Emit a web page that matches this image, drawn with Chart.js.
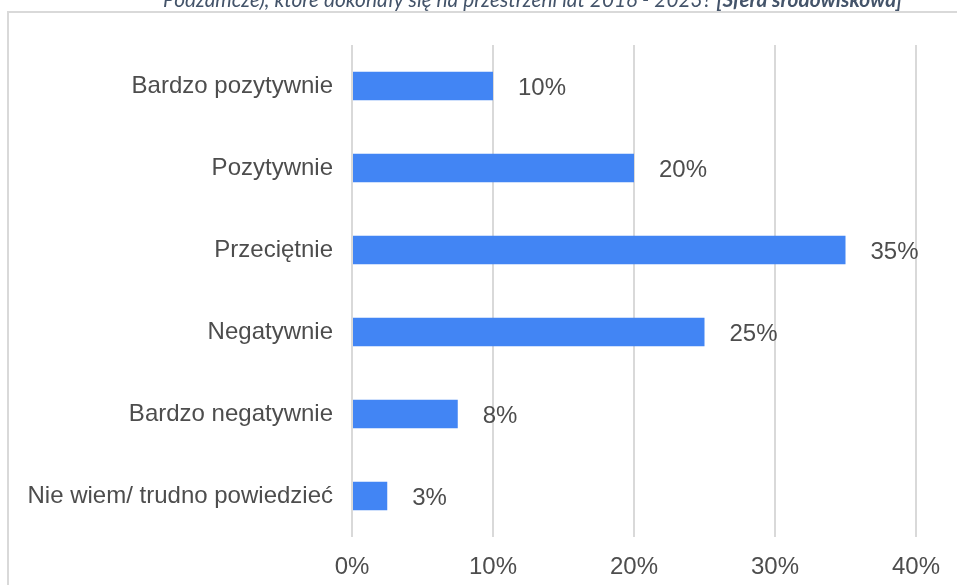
<!DOCTYPE html>
<html>
<head>
<meta charset="utf-8">
<script src="https://cdn.jsdelivr.net/npm/chart.js@4.4.0/dist/chart.umd.min.js"></script>
<style>
  html, body { margin: 0; padding: 0; background: #fff; }
  #wrap { width: 957px; height: 585px; position: relative; }
</style>
</head>
<body>
<div id="wrap"><canvas id="myChart"></canvas></div>
<script>
const categories = ["Bardzo pozytywnie", "Pozytywnie", "Przeciętnie", "Negatywnie", "Bardzo negatywnie", "Nie wiem/ trudno powiedzieć"];
const shares = [10, 20, 35, 25, 7.5, 2.5];
const tickValues = [0, 10, 20, 30, 40];
const titleText = "Podzamcze), które dokonały się na przestrzeni lat 2016 - 2023? ";
const titleBold = "[Sfera środowiskowa]";

const textColor = "#4d4d4d";
const labelFont = "Liberation Sans, Arial, sans-serif";
const labelSize = 24;

// frame lines + the cut-off heading above the chart
const framePlugin = {
    id: "frame",
    beforeDraw(chart) {
        const ctx = chart.ctx;
        ctx.save();
        ctx.strokeStyle = "#d9d9d9";
        ctx.lineWidth = 2;
        ctx.beginPath();
        ctx.moveTo(8, 585);
        ctx.lineTo(8, 12);
        ctx.lineTo(957, 12);
        ctx.stroke();

        ctx.fillStyle = "#44546a";
        ctx.textBaseline = "alphabetic";
        let size = 20;
        ctx.font = "italic " + size + "px Lato";
        let w1 = ctx.measureText(titleText).width;
        ctx.font = "italic bold " + size + "px Lato";
        let w2 = ctx.measureText(titleBold).width;
        size = size * 739 / (w1 + w2);
        ctx.font = "italic " + size + "px Lato";
        w1 = ctx.measureText(titleText).width;
        ctx.fillText(titleText, 163, 7);
        ctx.font = "italic bold " + size + "px Lato";
        ctx.fillText(titleBold, 163 + w1, 7);
        ctx.restore();
    }
};

// value labels to the right of each bar
const valueLabels = {
    id: "valueLabels",
    afterDatasetsDraw(chart) {
        const ctx = chart.ctx;
        const meta = chart.getDatasetMeta(0);
        ctx.save();
        ctx.fillStyle = textColor;
        ctx.font = labelSize + "px " + labelFont;
        ctx.textAlign = "left";
        ctx.textBaseline = "middle";
        meta.data.forEach((bar, i) => {
            ctx.fillText(Math.round(shares[i]) + "%", bar.x + 25, bar.y + 2);
        });
        ctx.restore();
    }
};

const ctx = document.getElementById("myChart");
new Chart(ctx, {
    type: "bar",
    data: {
        labels: categories,
        datasets: [{
            data: shares,
            backgroundColor: "#4285f4",
            borderWidth: 0,
            barPercentage: 0.35,
            categoryPercentage: 1.0
        }]
    },
    options: {
        indexAxis: "y",
        responsive: true,
        maintainAspectRatio: false,
        animation: false,
        layout: { padding: { top: 45, right: 41, bottom: 0, left: 0 } },
        plugins: {
            legend: { display: false },
            tooltip: { enabled: false }
        },
        scales: {
            x: {
                min: tickValues[0],
                max: tickValues[tickValues.length - 1],
                afterBuildTicks: (scale) => { scale.ticks = tickValues.map(v => ({ value: v })); },
                afterFit: (scale) => { scale.height = 48; },
                border: { display: false },
                grid: { color: "#d9d9d9", lineWidth: 2, drawTicks: false },
                ticks: {
                    padding: 16,
                    color: textColor,
                    font: { family: labelFont, size: labelSize }
                    ,callback: (v) => v + "%"
                }
            },
            y: {
                afterFit: (scale) => { scale.width = 352; },
                border: { display: false },
                grid: { display: false, drawTicks: false },
                ticks: {
                    padding: 19,
                    color: textColor,
                    font: { family: labelFont, size: labelSize }
                }
            }
        }
    },
    plugins: [framePlugin, valueLabels]
});
</script>
</body>
</html>
